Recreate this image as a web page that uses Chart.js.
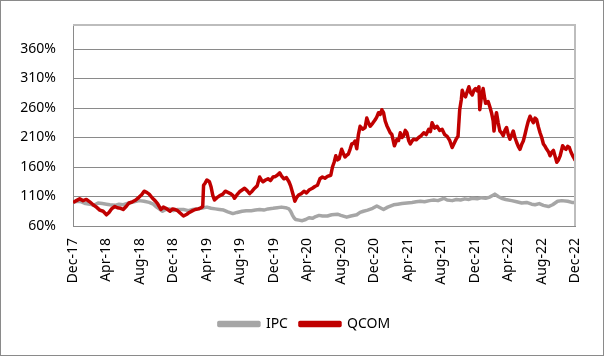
<!DOCTYPE html>
<html>
<head>
<meta charset="utf-8">
<script src="https://cdn.jsdelivr.net/npm/chart.js@4/dist/chart.umd.min.js"></script>
<style>
html,body{margin:0;padding:0;background:#fff;}
#wrap{width:604px;height:356px;position:relative;}
</style>
</head>
<body>
<div id="wrap"><canvas id="c" width="604" height="356"></canvas></div>
<script>
// x values are months since Dec-17
const tickLabels = ['Dec-17','Apr-18','Aug-18','Dec-18','Apr-19','Aug-19','Dec-19','Apr-20','Aug-20','Dec-20','Apr-21','Aug-21','Dec-21','Apr-22','Aug-22','Dec-22'];
const yTicks = [60,110,160,210,260,310,360];
const seriesNames = ['IPC','QCOM'];

const ipcMonths = [0,0.5,1,1.5,2,2.5,3,3.5,4,4.4,5,5.5,6,6.7,7.3,7.9,8.5,9.1,9.6,9.9,10.3,10.7,11.1,11.5,12,12.5,13.2,13.8,14.3,14.8,15.3,15.6,16,16.5,17,17.5,18,18.5,19.1,19.6,20.2,20.7,21.3,21.8,22.3,22.8,23.3,23.9,24.4,24.9,25.4,25.8,26,26.2,26.4,26.6,27,27.4,27.8,28.2,28.6,29,29.4,29.8,30.4,30.9,31.6,32,32.7,33.2,33.9,34.3,34.7,35.2,35.8,36.3,36.7,37.1,37.6,38.3,38.8,39.3,39.9,40.5,41,41.5,42,42.6,43.1,43.6,44.3,44.7,45.3,45.8,46.3,46.8,47.3,47.7,48.3,48.8,49.3,49.8,50.4,50.8,51.2,51.7,52.4,53,53.6,54.2,54.8,55.2,55.7,56.2,56.8,57.3,57.9,58.4,59.1,59.6,60];
const ipcValues = [100,102,101,98,97,95,99,98,97,96,95,97,96,99,101,103,102,100,97,93,89,85,88,89,86,88,88,86,88,89,90,91,92,90,89,88,87,84,81,83,85,86,86,87,88,87,89,90,91,92,91,89,85,79,74,71,70,69,71,74,73,76,78,77,77,79,80,78,75,77,79,83,85,87,90,94,91,88,92,96,97,98,99,100,101,102,101,103,104,103,107,104,103,105,104,106,105,107,106,108,107,109,114,110,107,105,103,101,99,100,97,96,98,95,93,96,102,103,102,100,100];

const qcomMonths = [0,0.4,0.8,1.2,1.6,2,2.4,2.8,3.2,3.6,4,4.3,4.6,5,5.3,5.7,6,6.4,6.7,7.1,7.5,7.9,8.2,8.5,8.8,9.1,9.5,9.8,10.1,10.5,10.8,11.1,11.6,11.9,12.2,12.5,12.8,13.2,13.6,13.9,14.3,14.6,15,15.3,15.5,15.6,15.8,16,16.3,16.5,16.7,16.9,17.2,17.5,17.9,18.2,18.5,18.8,19.1,19.3,19.6,19.9,20.2,20.5,20.8,21.1,21.4,21.7,22,22.3,22.5,22.7,23,23.3,23.6,23.9,24.2,24.4,24.7,24.9,25.2,25.5,25.8,26,26.2,26.4,26.5,26.7,27,27.3,27.6,27.9,28.2,28.6,28.9,29.2,29.5,29.8,30.1,30.4,30.8,31,31.2,31.4,31.6,31.8,32.1,32.3,32.5,32.7,32.9,33.1,33.3,33.5,33.7,33.9,34.1,34.3,34.6,34.9,35.1,35.3,35.5,35.8,36.1,36.3,36.5,36.7,36.9,37.1,37.3,37.5,37.7,37.9,38.1,38.4,38.7,38.9,39.1,39.3,39.5,39.7,39.9,40.1,40.3,40.5,40.7,41,41.3,41.6,41.9,42.2,42.5,42.7,42.9,43.2,43.5,43.8,44.1,44.4,44.7,45,45.3,45.6,45.8,46,46.2,46.4,46.5,46.7,46.9,47.1,47.3,47.5,47.7,47.9,48.1,48.3,48.5,48.6,48.8,49,49.2,49.3,49.6,49.8,50,50.2,50.3,50.5,50.6,50.8,51,51.2,51.4,51.6,51.8,52,52.2,52.4,52.6,52.8,53,53.2,53.4,53.6,53.8,54,54.2,54.4,54.6,54.8,55,55.2,55.4,55.6,55.8,56,56.2,56.4,56.6,56.8,57,57.2,57.4,57.6,57.8,58,58.2,58.4,58.5,58.7,58.9,59.1,59.3,59.5,59.7,59.9,60];
const qcomValues = [100,103,106,103,105,101,96,92,87,85,79,83,89,93,91,90,88,94,99,101,104,109,113,119,117,114,107,103,98,88,92,90,85,89,88,86,82,77,80,83,86,88,89,91,93,129,133,138,135,126,112,104,108,111,114,119,117,115,112,107,113,118,121,124,120,115,119,124,128,143,138,135,138,140,137,143,144,146,150,145,140,142,135,128,118,108,102,108,113,115,119,116,121,124,127,129,140,143,141,144,146,160,168,179,172,174,190,183,177,180,182,190,199,200,204,191,215,229,224,227,243,235,229,234,240,245,252,249,257,252,238,230,224,218,215,196,207,205,218,210,213,222,218,205,199,204,207,206,210,213,218,215,224,220,235,226,229,222,224,215,212,205,193,202,208,212,257,275,290,282,279,288,296,286,282,290,293,289,296,257,280,293,275,268,271,262,252,238,221,245,252,235,221,218,213,222,227,215,207,214,221,210,202,195,190,198,204,215,227,238,246,240,235,243,240,228,218,210,199,195,190,186,179,185,188,178,168,172,179,190,196,192,190,195,193,185,179,174,171];

function pts(xs, ys){ return xs.map((x,i)=>({x:x, y:ys[i]})); }

const frame = {
  id:'frame',
  afterLayout(chart){
    if (chart.legend) { chart.legend.left += 10; chart.legend.right += 10; }
  },
  beforeDraw(chart){
    const ctx = chart.ctx; ctx.save();
    ctx.fillStyle='#fff'; ctx.fillRect(0,0,chart.width,chart.height);
    ctx.restore();
  },
  afterDraw(chart){
    const ctx = chart.ctx, a = chart.chartArea; ctx.save();
    ctx.strokeStyle='#8a8a8a'; ctx.lineWidth=1;
    ctx.strokeRect(0.5,0.5,chart.width-1,chart.height-1);
    ctx.strokeStyle='#bdbdbd'; ctx.lineWidth=2;
    ctx.beginPath();
    ctx.moveTo(Math.round(a.left),Math.round(a.top)); ctx.lineTo(Math.round(a.right),Math.round(a.top));
    ctx.lineTo(Math.round(a.right),Math.round(a.bottom));
    ctx.stroke();
    ctx.restore();
  }
};

const font = {family:'"Noto Sans", "Open Sans", sans-serif', size:14};
new Chart(document.getElementById('c'), {
  type:'line',
  data:{datasets:[
    {label:seriesNames[0], data:pts(ipcMonths, ipcValues), borderColor:'#a6a6a6', backgroundColor:'#a6a6a6', borderWidth:3.5, pointRadius:0, tension:0, order:2, borderJoinStyle:'round'},
    {label:seriesNames[1], data:pts(qcomMonths, qcomValues), borderColor:'#c00000', backgroundColor:'#c00000', borderWidth:3.5, pointRadius:0, tension:0, order:1, borderJoinStyle:'round'}
  ]},
  options:{
    responsive:false, animation:false,
    layout:{padding:{left:8, top:23, right:23, bottom:15}},
    plugins:{
      legend:{position:'bottom', labels:{boxWidth:40, boxHeight:3, padding:12, color:'#000', font:font,
        sort:(a,b)=>a.datasetIndex-b.datasetIndex}},
      tooltip:{enabled:false}
    },
    scales:{
      x:{type:'linear', min:0, max:60,
        grid:{display:false, drawTicks:false},
        border:{display:true, color:'#8a8a8a', width:1},
        ticks:{stepSize:4, autoSkip:false, maxRotation:90, minRotation:90, padding:12, color:'#000', font:font,
          callback:(v)=>tickLabels[Math.round(v/4)]},
        afterFit:(s)=>{s.height=79;}
      },
      y:{type:'linear', min:60, max:400,
        grid:{color:'#8a8a8a', drawTicks:false, lineWidth:1},
        border:{display:true, color:'#8a8a8a', width:1},
        ticks:{padding:17, color:'#000', font:font, callback:(v)=>v+'%'},
        afterBuildTicks:(s)=>{ s.ticks = yTicks.map(v=>({value:v})); },
        afterFit:(s)=>{s.width=65;}
      }
    }
  },
  plugins:[frame]
});
</script>
</body>
</html>
